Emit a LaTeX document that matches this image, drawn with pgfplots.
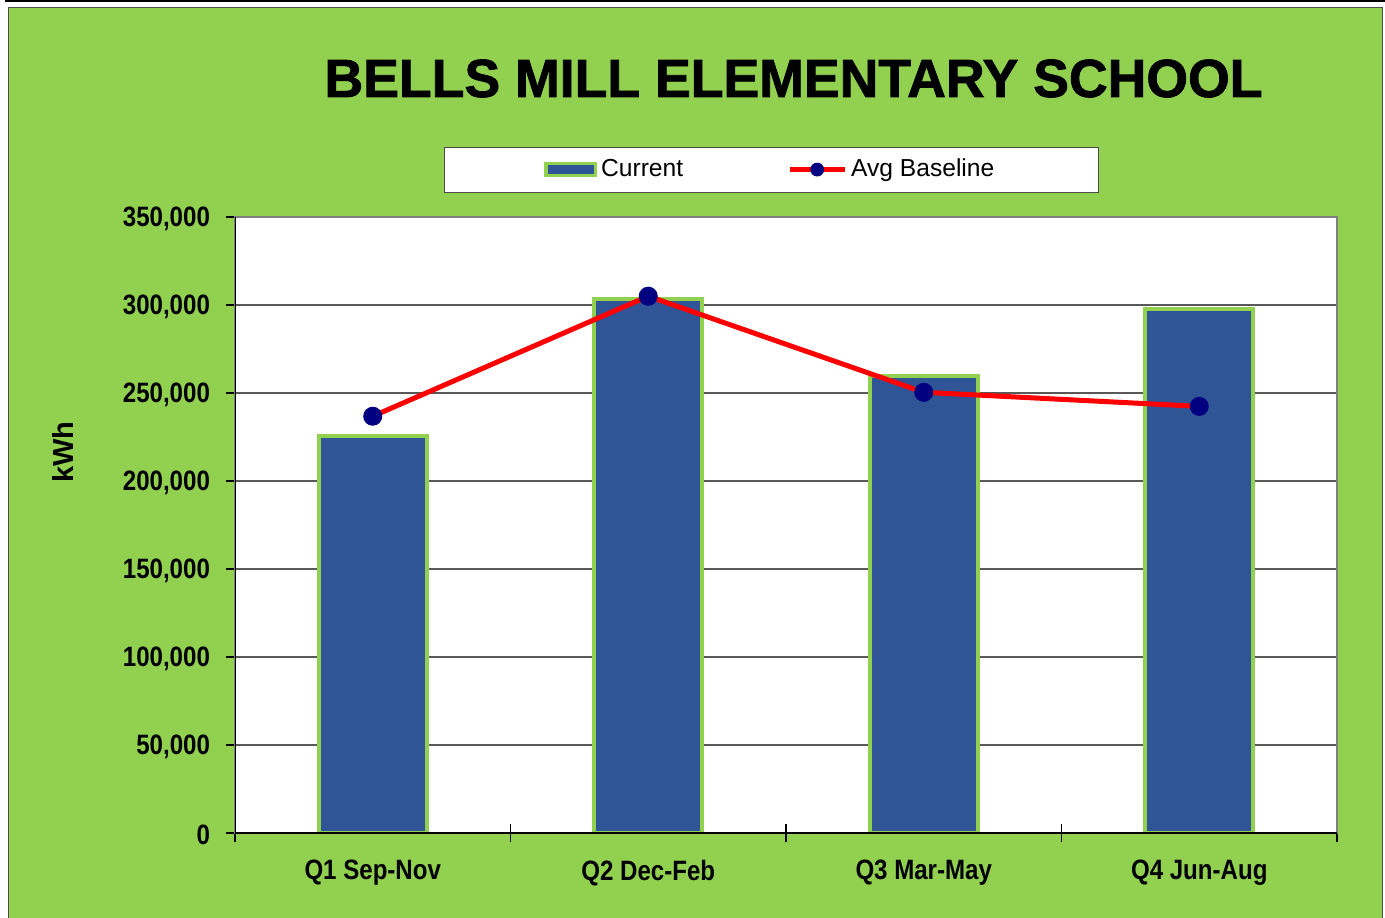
\documentclass[border=0pt]{standalone}
\usepackage{pgfplots}
\pgfplotsset{compat=1.18}
\usepackage{fontspec}
\setmainfont{Liberation Sans}
\newfontfamily\titlefont[FakeBold=1.5]{Liberation Sans Bold}
\definecolor{bggreen}{RGB}{146,208,80}
\definecolor{barblue}{RGB}{47,85,151}
\definecolor{navyblue}{RGB}{0,0,128}
\newcommand{\nar}[1]{\scalebox{0.86}[1]{#1}}
\pgfplotsset{
  legbar/.style={legend image code/.code={\draw[##1, line width=1.8pt] (0.9pt,-3pt) rectangle (25.6pt,3pt);}},
  legline/.style={legend image code/.code={\draw[##1, mark size=3.2pt, mark repeat=2, mark phase=2] plot coordinates {(0pt,0pt) (13.75pt,0pt) (27.5pt,0pt)};}},
}
\begin{document}
\begin{tikzpicture}[x=1pt,y=1pt]
\useasboundingbox (0,0) rectangle (692.5,458.5);
\fill[bggreen] (4,-1) rectangle (691,454.5);
\draw[gray!60!black, line width=0.5pt] (4,-1) -- (4,454.5) -- (691,454.5) -- (691,-1);
\draw[black, line width=1.2pt] (2.5,458) -- (692.5,458);
\node[font=\fontsize{26.8}{30}\selectfont\titlefont] at (396.75,419.25) {BELLS MILL ELEMENTARY SCHOOL};
\node[rotate=90, font=\fontsize{14.5}{16}\selectfont\bfseries] at (31.5,232.5) {kWh};
\begin{axis}[
  at={(117.5pt,42pt)}, anchor=south west, scale only axis,
  width=551pt, height=308pt,
  xmin=-0.5, xmax=3.5, ymin=0, ymax=350000,
  scaled y ticks=false,
  axis background/.style={fill=white},
  axis line style={gray, line width=0.6pt},
  ytick={0,50000,100000,150000,200000,250000,300000,350000},
  yticklabels={{\nar{0}},{\nar{50,000}},{\nar{100,000}},{\nar{150,000}},{\nar{200,000}},{\nar{250,000}},{\nar{300,000}},{\nar{350,000}}},
  xtick={0,1,2,3},
  xticklabels={{\nar{Q1 Sep-Nov}},{\nar{Q2 Dec-Feb}},{\nar{Q3 Mar-May}},{\nar{Q4 Jun-Aug}}},
  minor xtick={-0.5,0.5,1.5,2.5,3.5},
  tick align=outside, tick pos=left,
  major tick length=4.5pt, minor tick length=9pt,
  tick style={black, line width=0.6pt},
  major x tick style={draw=none},
  minor x tick style={yshift=4.5pt},
  ticklabel style={font=\fontsize{14}{16}\selectfont\bfseries},
  xticklabel style={yshift=-5.5pt},
  yticklabel style={xshift=-4.5pt, yshift=-1pt},
  ymajorgrids, major grid style={gray!70!black, line width=0.6pt},
  legend columns=2,
  legend style={at={(0.4866,1.077)}, anchor=center, draw=gray!60!black, fill=white,
    font=\fontsize{12.3}{14}\selectfont, inner xsep=50pt, inner ysep=4pt,
    /tikz/every even column/.append style={column sep=50pt}},
]
\addplot[ybar, bar width=54pt, fill=barblue, draw=bggreen, line width=2pt, legbar]
  coordinates {(0,225300) (1,303600) (2,259600) (3,297500)};
\addlegendentry{Current}
\addplot[red, line width=2.5pt, mark=*, mark size=4.5pt,
  mark options={fill=navyblue, draw=navyblue, line width=0.5pt}, legline]
  coordinates {(0,236800) (1,305000) (2,250400) (3,242400)};
\addlegendentry{Avg Baseline}
\draw[black, line width=0.75pt] (rel axis cs:0,1) -- (rel axis cs:0,0) -- (rel axis cs:1,0);
\end{axis}
\end{tikzpicture}
\end{document}
